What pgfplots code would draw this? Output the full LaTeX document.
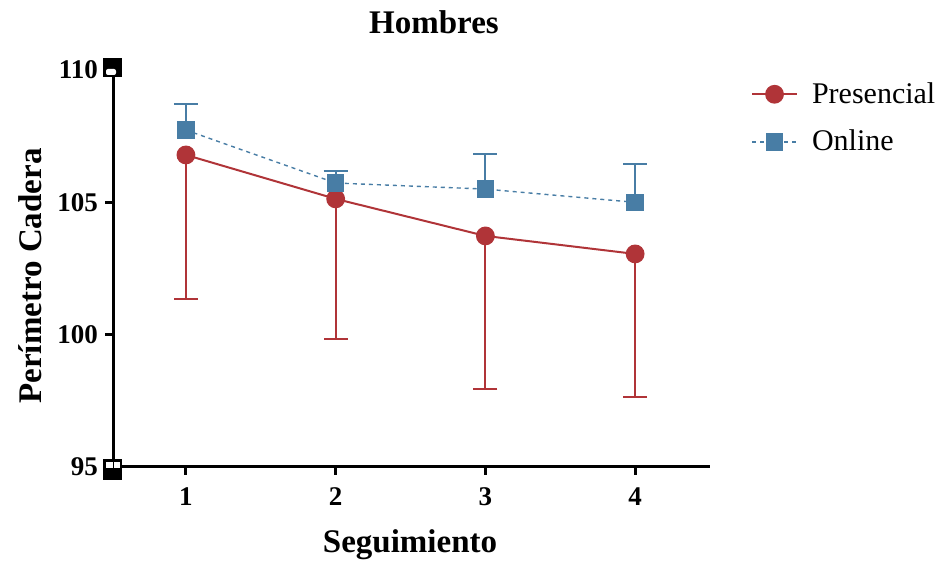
\documentclass[border=0pt]{standalone}
\usepackage{pgfplots}
\pgfplotsset{compat=1.18}
\usepackage{fontspec}
\setmainfont{Liberation Serif}
\definecolor{presred}{RGB}{176,52,56}
\definecolor{onblue}{RGB}{72,125,165}
\begin{document}
\begin{tikzpicture}[x=0.5pt,y=0.5pt]
\useasboundingbox (0,0) rectangle (950,572);
\begin{axis}[
  at={(113pt*0.5,105pt*0.5)}, anchor=origin,
  scale only axis, width=298.5pt, height=198.5pt,
  xmin=0.513, xmax=4.5, ymin=95, ymax=110,
  axis lines*=left,
  axis line style={line width=1.5pt},
  xtick={1,2,3,4}, ytick={95,100,105,110},
  tick style={line width=1.5pt, black},
  major tick length=4pt,
  tick align=outside,
  xtick pos=bottom, ytick pos=left,
  /pgf/number format/assume math mode=true,
  ticklabel style={font=\fontsize{13.5}{14}\selectfont\bfseries},
  xticklabel style={yshift=-3pt},
  clip=false,
  legend style={draw=none, fill=none, at={(rel axis cs:1.058,0.99)}, anchor=north west,
    font=\fontsize{15}{16}\selectfont, row sep=8pt, column sep=5pt},
  legend cell align=left,
  legend image code/.code={\draw[mark repeat=2,mark phase=2] plot coordinates {(0pt,0pt) (11.25pt,0pt) (22.5pt,0pt)};},
]
\addplot[presred, line width=1pt, mark=*, mark size=4.2pt, mark options={solid, fill=presred},
  error bars/.cd, y dir=minus, y explicit, error bar style={line width=1pt, presred}, error mark options={rotate=90, mark size=6pt, line width=1pt}]
  table[x=x, y=y, y error minus=e] {
x y e
1 106.79 5.44
2 105.13 5.29
3 103.73 5.78
4 103.05 5.40
};
\addlegendentry{Presencial}
\addplot[onblue, line width=0.7pt, dash pattern=on 2pt off 2pt, mark=square*, mark size=4pt, mark options={solid, fill=onblue},
  error bars/.cd, y dir=plus, y explicit, error bar style={line width=1pt, solid, onblue}, error mark options={rotate=90, mark size=6pt, line width=1pt, solid}]
  table[x=x, y=y, y error plus=e] {
x y e
1 107.73 0.99
2 105.73 0.45
3 105.50 1.33
4 105.00 1.45
};
\addlegendentry{Online}
\end{axis}
% axis break end markers
\fill[black] (103,495) rectangle (122,514);
\fill[white, rounded corners=1pt] (106,497) rectangle (116,503);
\fill[black] (103,92) rectangle (122,113);
\fill[white] (106,104) rectangle (120,110);
\fill[black] (112.5,104) rectangle (113.5,110);
% titles
\node[font=\fontsize{16.5}{18}\selectfont\bfseries] at (434,550) {Hombres};
\node[font=\fontsize{16.5}{18}\selectfont\bfseries] at (410,27) {Seguimiento};
\node[font=\fontsize{16.5}{18}\selectfont\bfseries, rotate=90] at (30,296) {Perímetro Cadera};
\end{tikzpicture}
\end{document}
